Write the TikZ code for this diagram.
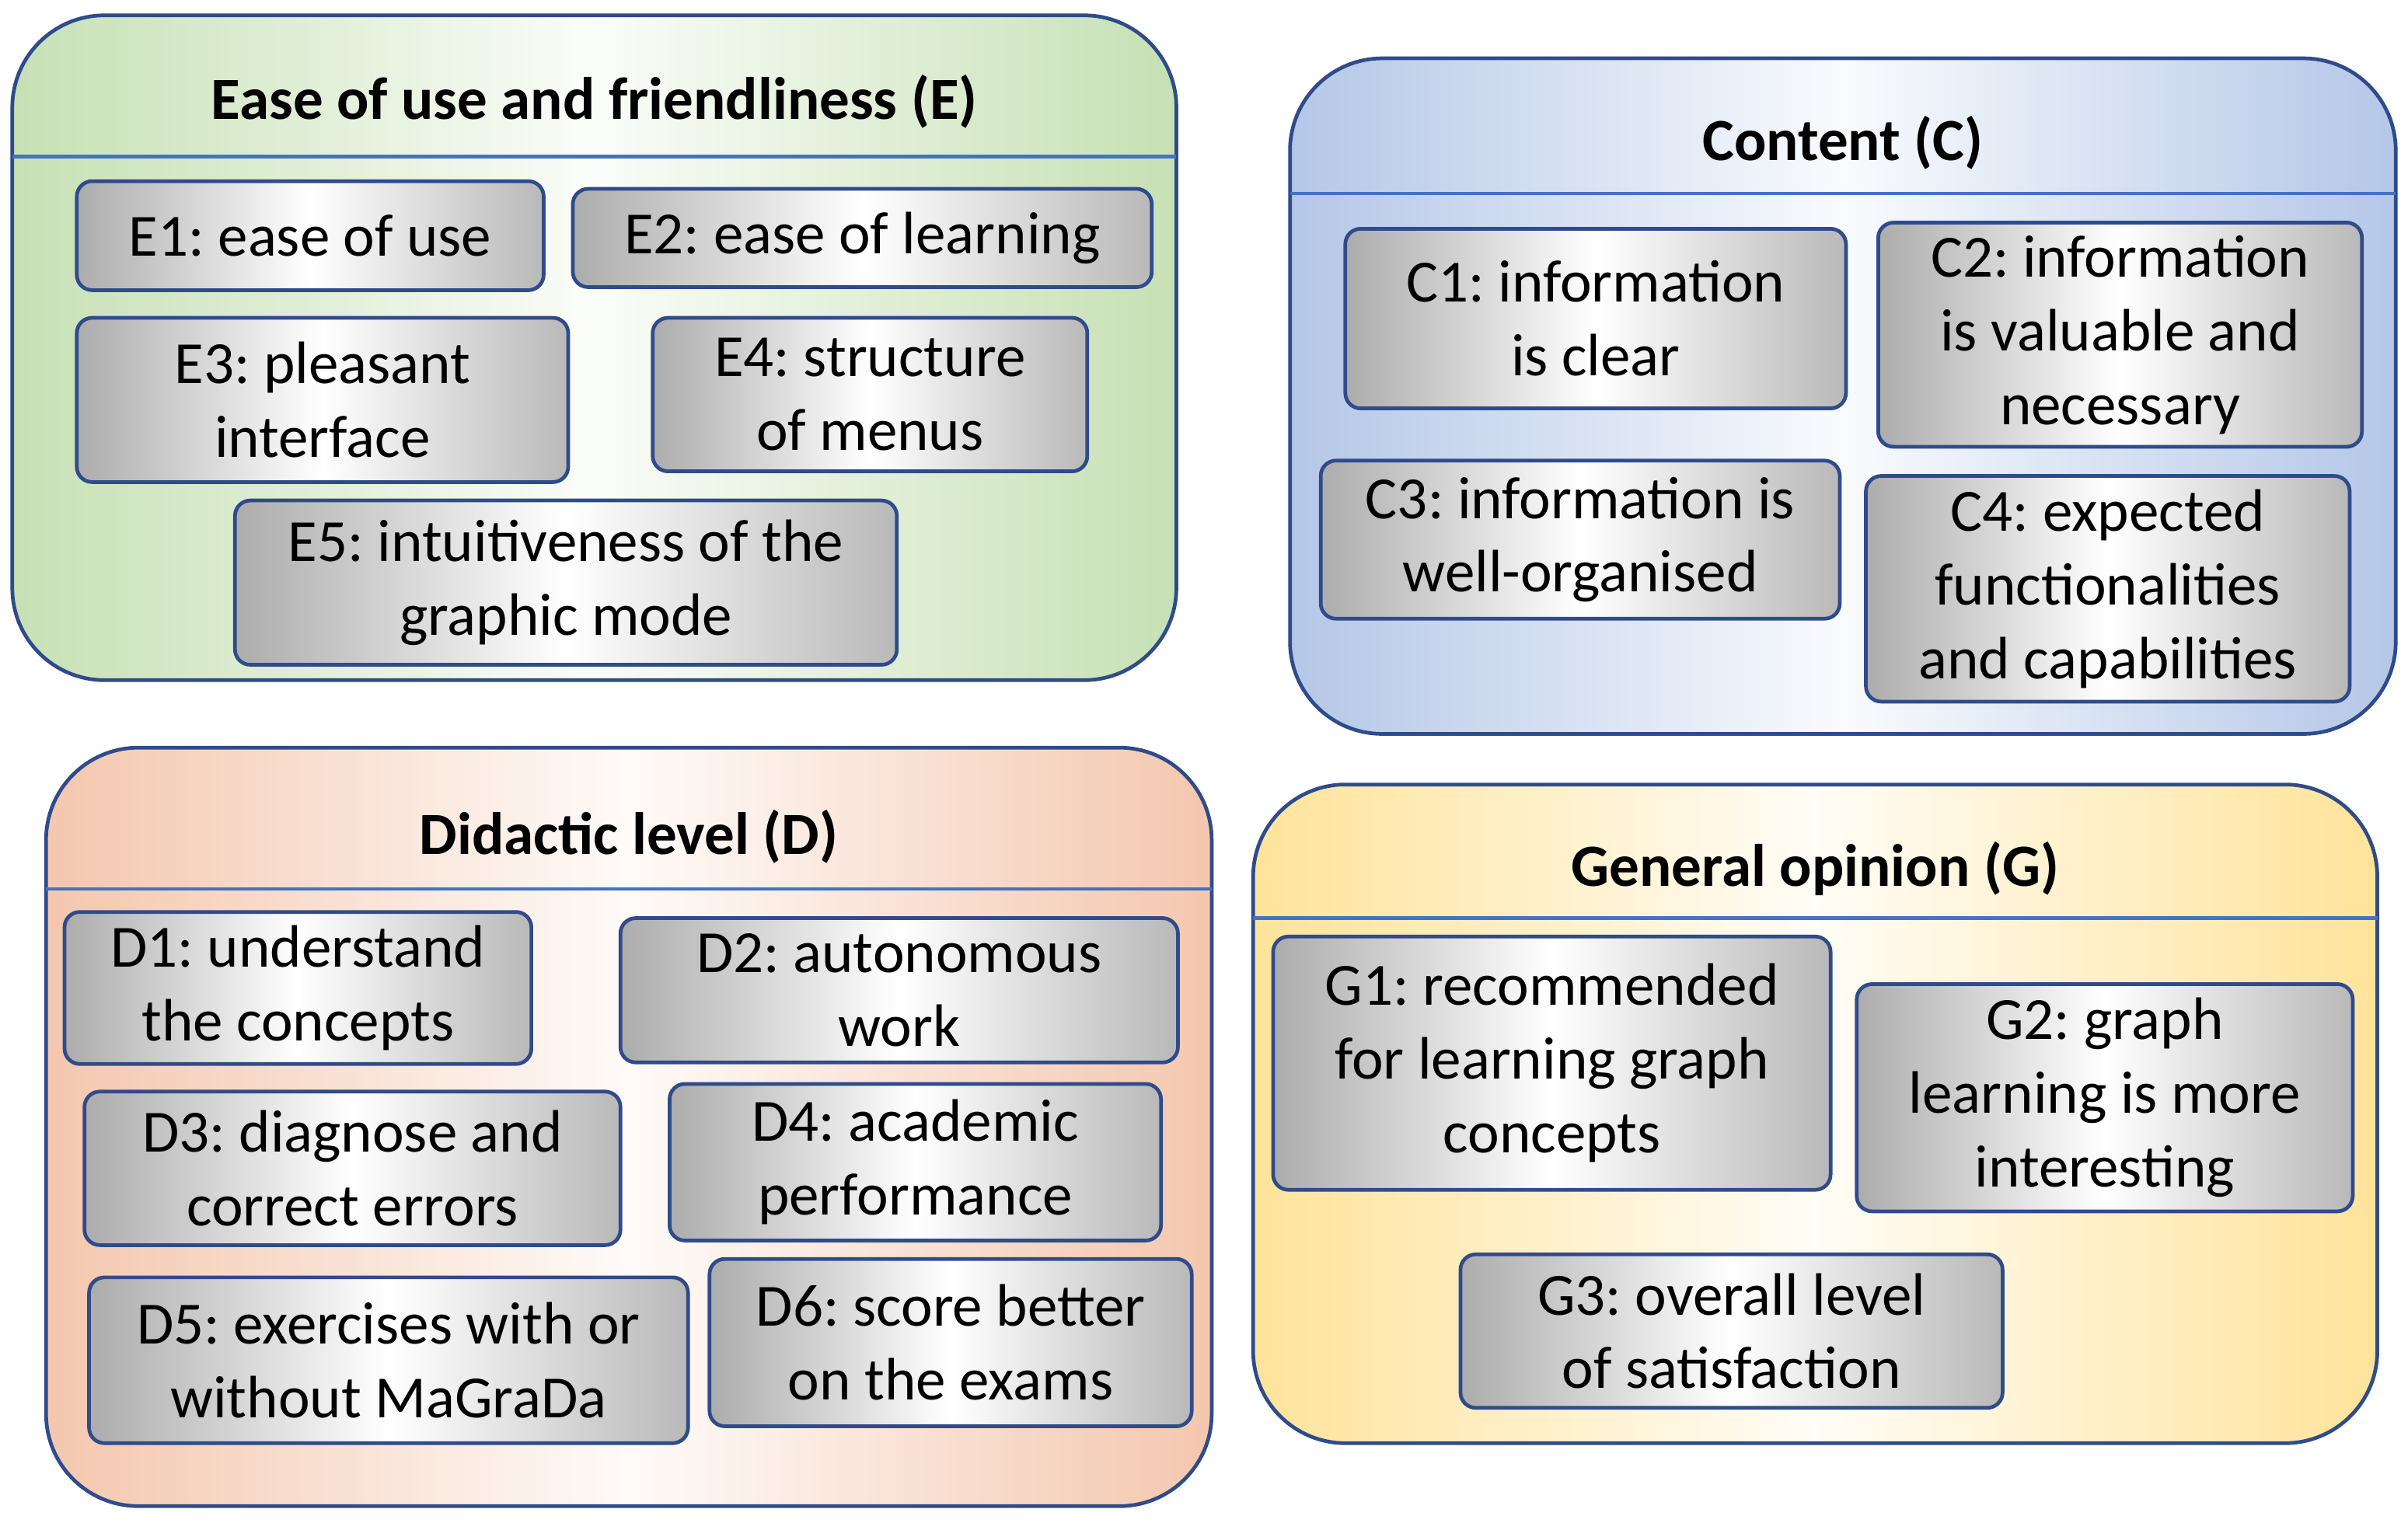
\documentclass[tikz,border=0pt]{standalone}
\usepackage{fontspec}
\setmainfont{Carlito}
\frenchspacing
\definecolor{bord}{HTML}{2F4B8A}
\definecolor{hline}{HTML}{4472C4}
\definecolor{cg}{HTML}{C6E0B4}
\definecolor{cb}{HTML}{B4C7E7}
\definecolor{co}{HTML}{F4C7AE}
\definecolor{cy}{HTML}{FFE39A}
\tikzset{
 ibox/.style={draw=bord,line width=1.2pt,rounded corners=5pt,left color=gray!65,right color=gray!55,middle color=white,align=center,font=\fontsize{19.5}{24}\selectfont,inner sep=0pt},
 cont/.style={draw=bord,line width=1.2pt,rounded corners=30pt,inner sep=0pt},
 ttl/.style={font=\fontsize{19.5}{22}\selectfont\bfseries}
}
\newcommand\ibox[6]{\pgfmathsetmacro\cx{(#2+#4)/2}\pgfmathsetmacro\cy{(#3+#5)/2}\pgfmathsetmacro\ww{(#4-#2)*0.5}\pgfmathsetmacro\hh{(#5-#3)*0.5}\node[ibox,minimum width=\ww pt,minimum height=\hh pt] (#1) at (\cx,\cy) {#6};}
\newcommand\contbox[9]{\pgfmathsetmacro\cx{(#2+#4)/2}\pgfmathsetmacro\cy{(#3+#5)/2}\pgfmathsetmacro\ww{(#4-#2)*0.5}\pgfmathsetmacro\hh{(#5-#3)*0.5}\node[cont,minimum width=\ww pt,minimum height=\hh pt,left color=#6,right color=#6,middle color=white!92!#6] (#1) at (\cx,\cy) {};
\draw[hline,line width=1.2pt] (#2,#7) -- (#4,#7);
\node[ttl] (#1t) at (\cx,#8) {#9};}
\begin{document}
\begin{tikzpicture}[x=0.5pt,y=-0.5pt]
\useasboundingbox (0,0) rectangle (1568,992);
\contbox{E}{8}{10}{766}{443}{cg}{102}{66}{Ease of use and friendliness (E)}
\contbox{C}{840}{38}{1560}{478}{cb}{126}{93}{Content (C)}
\contbox{D}{30}{487}{789}{981}{co}{579}{545}{Didactic level (D)}
\contbox{G}{816}{511}{1548}{940}{cy}{598}{566}{General opinion (G)}
\ibox{e1}{50}{118}{354}{189}{E1: ease of use}
\ibox{e2}{373}{123}{750}{187}{E2: ease of learning}
\ibox{e3}{50}{207}{370}{314}{E3: pleasant\\interface}
\ibox{e4}{425}{207}{708}{307}{E4: structure\\of menus}
\ibox{e5}{153}{326}{584}{433}{E5: intuitiveness of the\\graphic mode}
\ibox{c1}{876}{149}{1202}{266}{C1: information\\is clear}
\ibox{c2}{1223}{145}{1538}{291}{C2: information\\is valuable and\\necessary}
\ibox{c3}{860}{300}{1198}{403}{C3: information is\\well-organised}
\ibox{c4}{1215}{310}{1530}{457}{C4: expected\\functionalities\\and capabilities}
\ibox{d1}{42}{594}{346}{693}{D1: understand\\the concepts}
\ibox{d2}{404}{598}{767}{692}{D2: autonomous\\work}
\ibox{d3}{55}{711}{404}{811}{D3: diagnose and\\correct errors}
\ibox{d4}{436}{706}{756}{808}{D4: academic\\performance}
\ibox{d5}{58}{832}{448}{940}{D5: exercises with or\\without MaGraDa}
\ibox{d6}{462}{820}{776}{929}{D6: score better\\on the exams}
\ibox{g1}{829}{610}{1192}{775}{G1: recommended\\for learning graph\\concepts}
\ibox{g2}{1209}{641}{1532}{789}{G2: graph\\learning is more\\interesting}
\ibox{g3}{951}{817}{1304}{917}{G3: overall level\\of satisfaction}
\end{tikzpicture}
\end{document}
